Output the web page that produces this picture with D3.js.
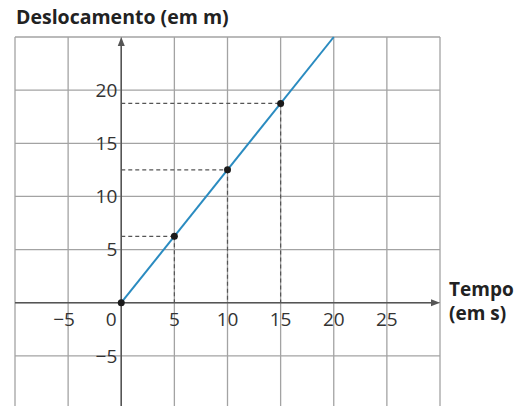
<!DOCTYPE html>
<html><head><meta charset="utf-8">
<script src="https://cdn.jsdelivr.net/npm/d3@7"></script>
<style>body{margin:0;background:#fff}svg{display:block}</style>
</head><body>
<script>
const xTicks = [-5, 0, 5, 10, 15, 20, 25];
const yTicks = [-5, 5, 10, 15, 20];
const gridX = [-10, -5, 0, 5, 10, 15, 20, 25, 30];
const gridY = [-10, -5, 0, 5, 10, 15, 20, 25];
const times = [0, 5, 10, 15];
const displacements = [0, 6.25, 12.5, 18.75];
const lineTimes = [0, 20];
const lineDisp = [0, 25];
const yTitle = "Deslocamento (em m)";
const xTitle = ["Tempo", "(em s)"];

const W = 522, H = 406;
const svg = d3.select("body").append("svg").attr("width", W).attr("height", H);
const x = d3.scaleLinear().domain([-10, 30]).range([15, 440]);
const y = d3.scaleLinear().domain([-10, 25]).range([409, 37]);
const font = "'Open Sans', sans-serif";

// grid
svg.append("g").selectAll("line").data(gridX).join("line")
  .attr("x1", d => x(d)).attr("x2", d => x(d))
  .attr("y1", y(25)).attr("y2", H)
  .attr("stroke", "#a3a3a3").attr("stroke-width", 1.3);
svg.append("g").selectAll("line").data(gridY).join("line")
  .attr("x1", x(-10)).attr("x2", x(30))
  .attr("y1", d => y(d)).attr("y2", d => y(d))
  .attr("stroke", "#a3a3a3").attr("stroke-width", 1.3);

// axes
svg.append("line").attr("x1", x(-10)).attr("x2", x(30) - 4)
  .attr("y1", y(0)).attr("y2", y(0)).attr("stroke", "#555").attr("stroke-width", 1.5);
svg.append("line").attr("x1", x(0)).attr("x2", x(0))
  .attr("y1", H).attr("y2", y(25) + 4).attr("stroke", "#555").attr("stroke-width", 1.5);
svg.append("path")
  .attr("d", `M${x(30)},${y(0)} l-9,-3.5 l0,7 z`).attr("fill", "#555");
svg.append("path")
  .attr("d", `M${x(0)},${y(25)} l-3.5,9 l7,0 z`).attr("fill", "#555");

// dashed guides
const pts = times.map((t, i) => ({t, s: displacements[i]})).filter(d => d.t > 0);
svg.append("g").selectAll("line").data(pts).join("line")
  .attr("x1", x(0)).attr("x2", d => x(d.t))
  .attr("y1", d => y(d.s)).attr("y2", d => y(d.s))
  .attr("stroke", "#555").attr("stroke-width", 1.2).attr("stroke-dasharray", "4,3");
svg.append("g").selectAll("line").data(pts).join("line")
  .attr("x1", d => x(d.t)).attr("x2", d => x(d.t))
  .attr("y1", d => y(d.s)).attr("y2", y(0))
  .attr("stroke", "#555").attr("stroke-width", 1.2).attr("stroke-dasharray", "4,3");

// line
const lineData = lineTimes.map((t, i) => [t, lineDisp[i]]);
svg.append("path").datum(lineData)
  .attr("d", d3.line().x(d => x(d[0])).y(d => y(d[1])))
  .attr("fill", "none").attr("stroke", "#2a8bc0").attr("stroke-width", 2);

// points
svg.append("g").selectAll("circle").data(times).join("circle")
  .attr("cx", d => x(d)).attr("cy", (d, i) => y(displacements[i]))
  .attr("r", 3.5).attr("fill", "#1a1a1a");

// tick labels
svg.append("g").selectAll("text").data(xTicks).join("text")
  .attr("x", d => d === 0 ? x(d) - 10 : (d < 0 ? x(d) - 4 : x(d)))
  .attr("y", 326).attr("text-anchor", "middle")
  .attr("font-family", font).attr("font-size", 19).attr("fill", "#333")
  .text(d => d < 0 ? "\u2212" + Math.abs(d) : d);
svg.append("g").selectAll("text").data(yTicks).join("text")
  .attr("x", x(0) - 4).attr("y", d => y(d)).attr("dy", "0.35em")
  .attr("text-anchor", "end")
  .attr("font-family", font).attr("font-size", 19).attr("fill", "#333")
  .text(d => d < 0 ? "\u2212" + Math.abs(d) : d);

// titles
svg.append("text").attr("x", 16).attr("y", 24)
  .attr("font-family", font).attr("font-size", 19.5).attr("font-weight", "bold").attr("fill", "#222")
  .text(yTitle);
svg.append("g").selectAll("text").data(xTitle).join("text")
  .attr("x", 449).attr("y", (d, i) => 296 + i * 24)
  .attr("font-family", font).attr("font-size", 19).attr("font-weight", "bold").attr("fill", "#222")
  .text(d => d);
</script>
</body></html>
